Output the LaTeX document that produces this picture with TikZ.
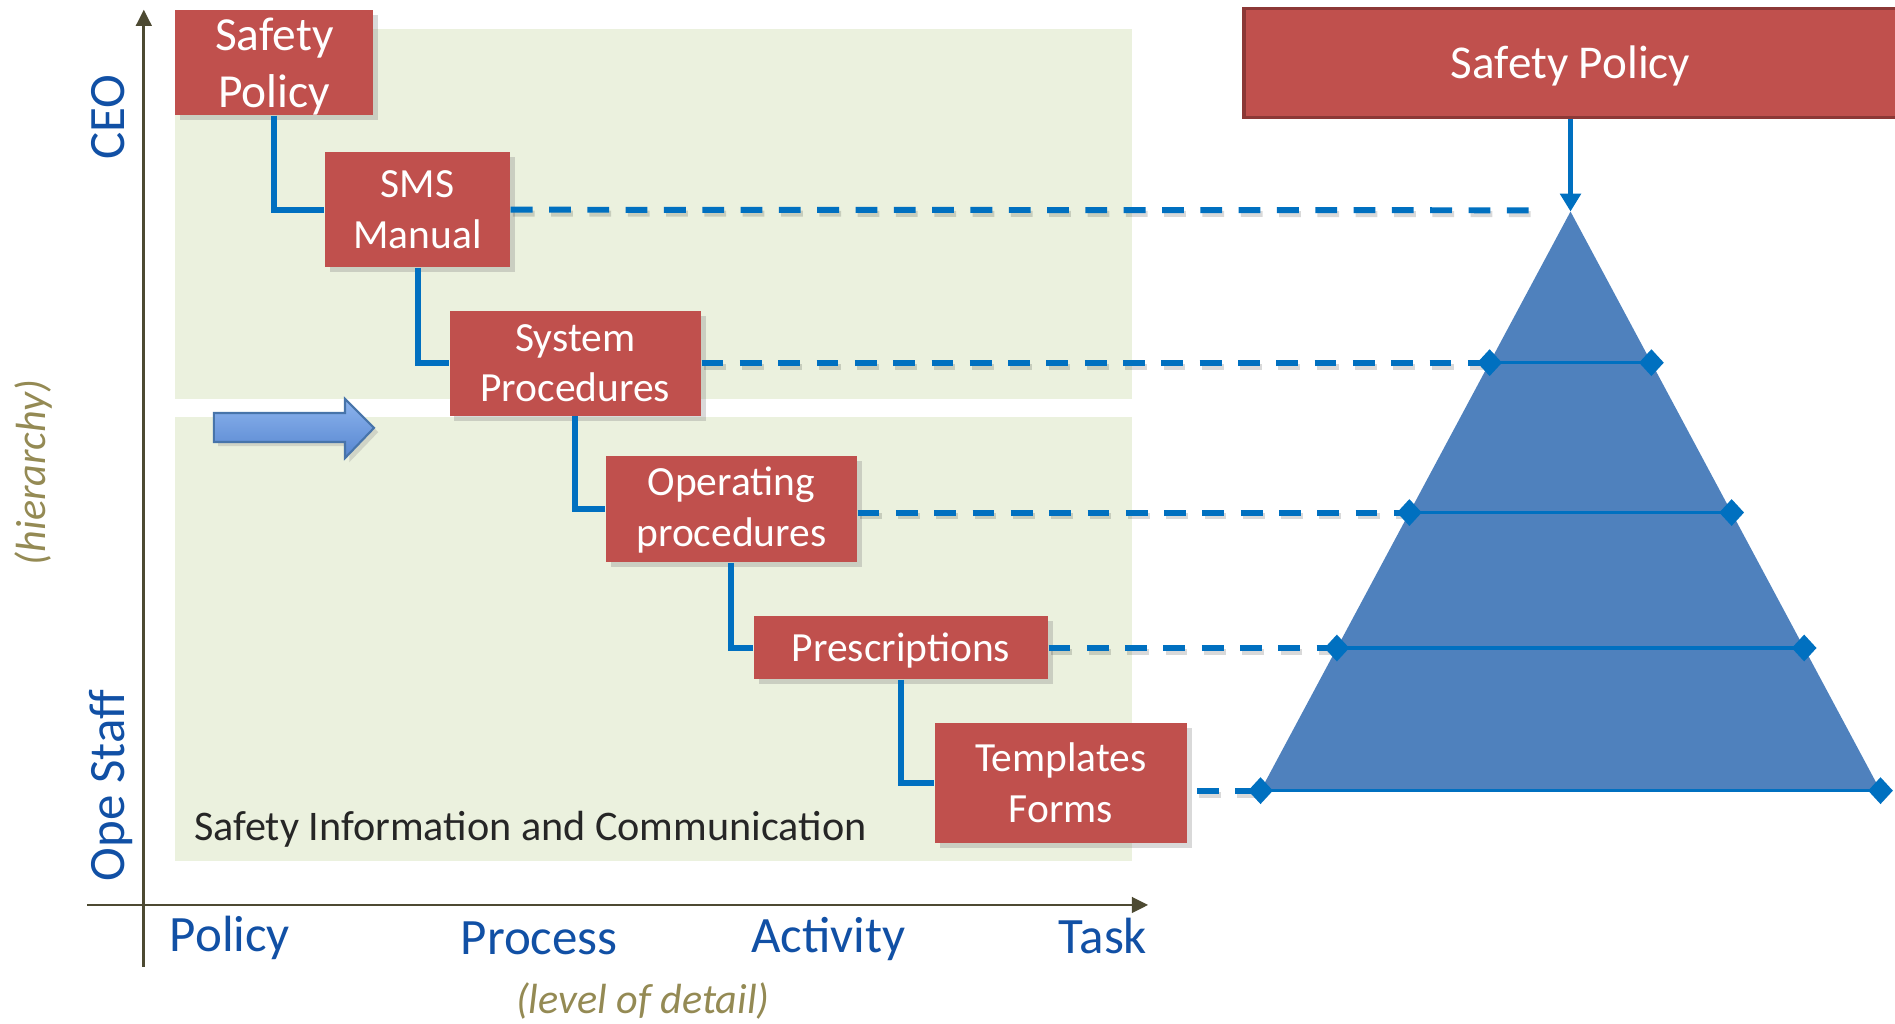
\documentclass[tikz,border=0pt]{standalone}
\usepackage{fontspec}
\setmainfont{Carlito}
\usepackage{tikz}
\usetikzlibrary{positioning,calc,arrows.meta,shapes.geometric,shadows}

\definecolor{boxred}{HTML}{C0504D}
\definecolor{boxedge}{HTML}{8C3836}
\definecolor{lineblue}{HTML}{0070C0}
\definecolor{pyrblue}{HTML}{4F81BD}
\definecolor{panel}{HTML}{EBF1DE}
\definecolor{axiscol}{HTML}{4D4A32}
\definecolor{labblue}{HTML}{1150A5}
\definecolor{olive}{HTML}{948A54}
\definecolor{txtdark}{HTML}{262626}
\definecolor{arrtop}{HTML}{8DB4EE}
\definecolor{arrbot}{HTML}{5686D0}

\newcommand{\lowered}[2]{\raisebox{-#1}[\height][\depth]{#2}}

\tikzset{
  doc/.style={fill=boxred, text=white, inner sep=0pt, align=center,
    font=\fontsize{11.8}{14.4}\selectfont,
    drop shadow={shadow xshift=1.4pt, shadow yshift=-1.4pt, opacity=.3}},
  link/.style={draw=lineblue, line width=1.7pt},
  guide/.style={draw=lineblue, line width=1.7pt, dash pattern=on 6.2pt off 4.7pt,
    preaction={draw=black, opacity=.15, line width=1.7pt, dash pattern=on 6.2pt off 4.7pt,
      transform canvas={shift={(0.6pt,-1.1pt)}}}},
  rung/.style={draw=lineblue, line width=.9pt},
  knot/.style={diamond, fill=lineblue, inner sep=0pt, minimum width=7.2pt, minimum height=7.8pt},
  axis/.style={draw=axiscol, line width=.8pt, -{Triangle[length=4.6pt, width=4.4pt]}},
  axlabel/.style={text=labblue, inner sep=0pt, font=\fontsize{14.5}{17}\selectfont},
  note/.style={text=olive, inner sep=0pt, font=\fontsize{12}{14}\selectfont\itshape}
}

\begin{document}
\begin{tikzpicture}[x=0.012086cm, y=-0.012086cm]
  \useasboundingbox (0,0) rectangle (1568,847);

  % panels
  \fill[panel] (145,24) rectangle (937,330);
  \fill[panel] (145,345) rectangle (937,712);

  % axes
  \coordinate (ybot) at (119,800);
  \coordinate (ytop) at (119,8);
  \coordinate (xleft) at (72,748.8);
  \coordinate (xright) at (950,748.8);
  \draw[axis] (ybot) -- (ytop);
  \draw[axis] (xleft) -- (xright);

  \node[axlabel, rotate=90, anchor=base] (ceo) at (103,97) {CEO};
  \node[axlabel, rotate=90, anchor=base] (staff) at (103,650) {Ope Staff};
  \node[note, rotate=90, anchor=base] (hier) at (38,391) {(hierarchy)};

  \node[axlabel, anchor=base west] (xpolicy) at (140,787) {Policy};
  \node[axlabel, anchor=base west] (xprocess) at (380.6,789.6) {Process};
  \node[axlabel, anchor=base west] (xactivity) at (621,788.2) {Activity};
  \node[axlabel, anchor=base west] (xtask) at (875.5,788.8) {Task};
  \node[note, anchor=base] (detail) at (532,839) {(level of detail)};

  \node[text=txtdark, inner sep=0pt, anchor=base west, font=\fontsize{12}{14}\selectfont]
    (sic) at (160,695.5) {Safety Information and Communication};

  % block arrow
  \draw[draw=pyrblue!90!black, line width=.6pt, top color=arrtop, bottom color=arrbot,
    drop shadow={shadow xshift=1.2pt, shadow yshift=-1.2pt, opacity=.25}]
    (177,341.7) -- (285.5,341.7) -- (285.5,330) -- (309.5,354) -- (285.5,379)
    -- (285.5,365.7) -- (177,365.7) -- cycle;

  % documents
  \node[doc, minimum width=1.982cm, minimum height=1.051cm, font=\fontsize{13.5}{16.3}\selectfont]
    (policy) at (227,51.5) {\raisebox{-5.2pt}[0pt][0pt]{\begin{tabular}{@{}c@{}}Safety\\Policy\end{tabular}}};
  \node[doc, minimum width=1.849cm, minimum height=1.148cm] (manual) at (345.5,173.5) {SMS\\Manual};
  \node[doc, minimum width=2.514cm, minimum height=1.051cm] (sysproc) at (476,300.5) {System\\Procedures};
  \node[doc, minimum width=2.51cm, minimum height=1.06cm] (opproc) at (605.2,421.2) {\lowered{0.6pt}{\begin{tabular}{@{}c@{}}Operating\\procedures\end{tabular}}};
  \node[doc, minimum width=2.937cm, minimum height=0.628cm] (prescr) at (745.5,536) {\lowered{0.9pt}{Prescriptions}};
  \node[doc, minimum width=2.52cm, minimum height=1.2cm] (forms) at (877.9,647.9) {Templates\\Forms};

  \draw[link] (policy.south) |- (manual.west);
  \draw[link] (manual.south) |- (sysproc.west);
  \draw[link] (sysproc.south) |- (opproc.west);
  \draw[link] (opproc.south) |- (prescr.west);
  \draw[link] (prescr.south) |- (forms.west);

  % pyramid
  \coordinate (apex) at (1299.5,175);
  \coordinate (bl) at (1043,654.2);
  \coordinate (br) at (1556,654.2);
  \fill[pyrblue] (apex) -- (bl) -- (br) -- cycle;

  \coordinate (l1) at ($(apex)!0.261!(bl)$);
  \coordinate (r1) at ($(apex)!0.261!(br)$);
  \coordinate (l2) at ($(apex)!0.5198!(bl)$);
  \coordinate (r2) at ($(apex)!0.5198!(br)$);
  \coordinate (l3) at ($(apex)!0.7537!(bl)$);
  \coordinate (r3) at ($(apex)!0.7537!(br)$);

  \draw[rung] (l1) -- (r1);
  \draw[rung] (l2) -- (r2);
  \draw[rung] (l3) -- (r3);
  \draw[rung] (bl) -- (br);

  \coordinate (near) at (1278,174);
  \draw[guide] (manual.east) -- (near);
  \draw[guide] (sysproc.east |- l1) -- (l1);
  \draw[guide] (opproc.east |- l2) -- (l2);
  \draw[guide] (prescr.east |- l3) -- (l3);
  \draw[guide] ([xshift=2.6pt]forms.east |- bl) -- (bl);

  \foreach \p in {l1,r1,l2,r2,l3,r3,bl,br}
    \node[knot] (k\p) at (\p) {};

  % top policy box
  \node[fill=boxred, draw=boxedge, line width=1pt, text=white, inner sep=0pt,
    minimum width=6.53cm, minimum height=1.088cm, font=\fontsize{13.4}{16}\selectfont]
    (top) at (1299.5,52) {\lowered{1pt}{Safety Policy}};
  \draw[draw=lineblue, line width=1.6pt, -{Triangle[length=5.1pt, width=5.8pt]}] (top.south) -- (apex);
\end{tikzpicture}
\end{document}
